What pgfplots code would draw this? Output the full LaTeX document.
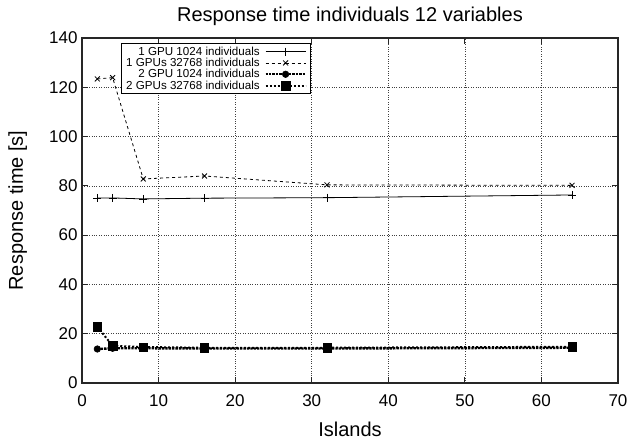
\documentclass[border=0pt]{standalone}
\usepackage{pgfplots}
\pgfplotsset{compat=1.18}
\usepackage{fontspec}
\setmainfont{Liberation Sans}
\begin{document}
\begin{tikzpicture}
\useasboundingbox (-82pt,-59pt) rectangle (547pt,383pt);
\begin{axis}[
  at={(0pt,0pt)}, anchor=south west,
  scale only axis,
  width=536pt, height=345pt,
  xmin=0, xmax=70, ymin=0, ymax=140,
  xtick={0,10,...,70}, ytick={0,20,...,140},
  tick align=inside,
  major tick length=6pt,
  grid=major,
  major grid style={dotted, black!75, line width=0.6pt},
  axis line style={line width=1.2pt, black!85},
  every tick/.style={black!85, line width=0.8pt},
  tick label style={font=\fontsize{17}{20}\selectfont},
  xticklabel style={yshift=-8pt},
  yticklabel style={xshift=-1pt},
  /pgf/number format/assume math mode=true,
  title={Response time individuals 12 variables},
  title style={font=\fontsize{20}{24}\selectfont, at={(axis description cs:0.5,1.029)}, anchor=base},
  xlabel={Islands},
  ylabel={Response time [s]},
  label style={font=\fontsize{20}{24}\selectfont},
  xlabel style={at={(axis description cs:0.5,-0.155)}, anchor=base},
  ylabel style={at={(axis description cs:-0.1104,0.5)}, anchor=base, rotate=0},
  legend style={at={(axis description cs:0.0728,0.9855)}, anchor=north west,
    font=\fontsize{11.6}{12}\selectfont,
    draw=black, line width=1pt, inner xsep=4pt, inner ysep=2.5pt, row sep=0pt, column sep=4pt,
    nodes={inner sep=0.7pt}},
  legend cell align=right,
  legend plot pos=right,
  legend image code/.code={\draw[#1] (0pt,0pt) -- (20pt,0pt) plot coordinates {(20pt,0pt)} -- (40pt,0pt);},
]
\addplot[black, line width=0.8pt, mark=+, mark size=4pt] coordinates {
 (2,75.1) (4,75.1) (8,74.7) (16,75.0) (32,75.2) (64,76.3)};
\addlegendentry{1 GPU 1024 individuals}
\addplot[black, dashed, line width=0.8pt, mark=x, mark size=3.5pt, mark options={solid}] coordinates {
 (2,123.4) (4,123.9) (8,82.8) (16,84.0) (32,80.4) (64,80.2)};
\addlegendentry{1 GPUs 32768 individuals}
\addplot[black, densely dotted, line width=2.4pt, mark=*, mark size=3.3pt, mark options={solid, line width=0.5pt}] coordinates {
 (2,13.8) (4,14.1) (8,14.1) (16,14.0) (32,14.0) (64,14.3)};
\addlegendentry{2 GPU 1024 individuals}
\addplot[black, dotted, line width=2pt, mark=square*, mark size=4.2pt, mark options={solid, line width=0.5pt}] coordinates {
 (2,22.8) (4,15.1) (8,14.6) (16,14.3) (32,14.3) (64,14.7)};
\addlegendentry{2 GPUs 32768 individuals}
\end{axis}
\end{tikzpicture}
\end{document}
